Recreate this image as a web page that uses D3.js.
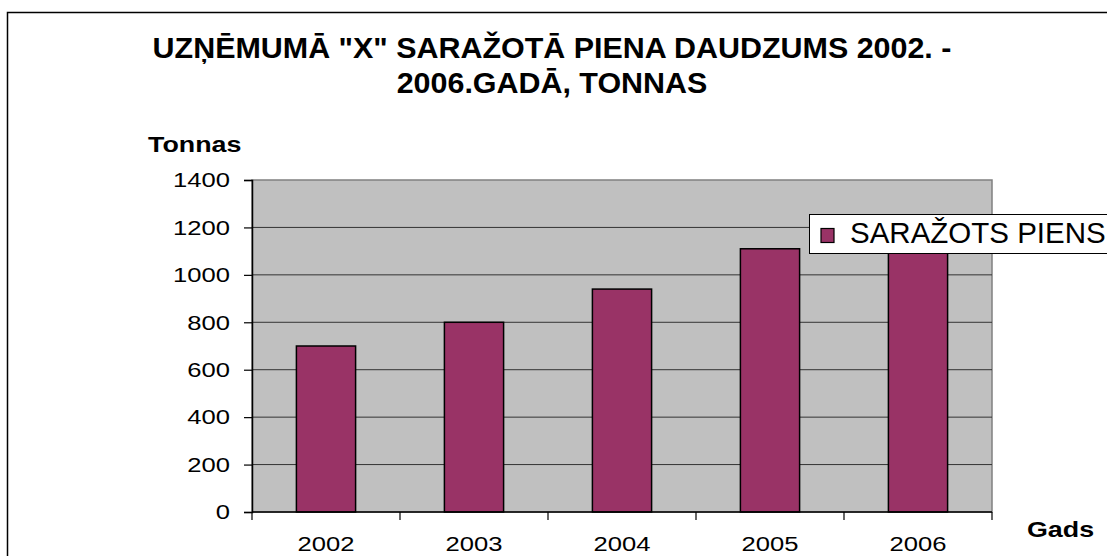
<!DOCTYPE html>
<html>
<head>
<meta charset="utf-8">
<script src="https://cdn.jsdelivr.net/npm/d3@7.9.0/dist/d3.min.js"></script>
<style>
  html, body { margin: 0; padding: 0; background: #fff; }
  svg { display: block; font-family: "Liberation Sans", Arial, sans-serif; }
</style>
</head>
<body>
<div id="chart"></div>
<script>
// data
const years = ['2002', '2003', '2004', '2005', '2006'];
const milk = [700, 800, 940, 1110, 1200];
const yTicks = [0, 200, 400, 600, 800, 1000, 1200, 1400];
const titleLines = ['UZŅĒMUMĀ "X" SARAŽOTĀ PIENA DAUDZUMS 2002. -', '2006.GADĀ, TONNAS'];
const seriesName = 'SARAŽOTS PIENS';

const width = 1107;
const height = 556;
const plot = { left: 252, right: 992, top: 180, bottom: 512 };
const stretch = 1.22; // axis text is drawn wider than it is tall

const svg = d3.select('#chart').append('svg')
  .attr('width', width)
  .attr('height', height);

// outer chart frame, runs off the right and bottom edge
svg.append('rect')
  .attr('x', 7.5).attr('y', 12.5)
  .attr('width', 1200).attr('height', 600)
  .attr('fill', 'none')
  .attr('stroke', '#000')
  .attr('stroke-width', 1.5);

const x = d3.scaleBand()
  .domain(years)
  .range([plot.left, plot.right])
  .paddingInner(0.6)
  .paddingOuter(0.3);

const y = d3.scaleLinear()
  .domain([0, 1400])
  .range([plot.bottom, plot.top]);

// plot area
svg.append('rect')
  .attr('x', plot.left).attr('y', plot.top)
  .attr('width', plot.right - plot.left)
  .attr('height', plot.bottom - plot.top)
  .attr('fill', '#c0c0c0')
  .attr('stroke', '#808080')
  .attr('stroke-width', 1.5);

// gridlines
svg.append('g')
  .selectAll('line')
  .data(yTicks.filter(d => d > 0 && d < 1400))
  .join('line')
  .attr('x1', plot.left).attr('x2', plot.right)
  .attr('y1', d => y(d)).attr('y2', d => y(d))
  .attr('stroke', '#333')
  .attr('stroke-width', 1);

// bars
svg.append('g')
  .selectAll('rect')
  .data(milk)
  .join('rect')
  .attr('x', (d, i) => x(years[i]))
  .attr('y', d => y(d))
  .attr('width', x.bandwidth())
  .attr('height', d => y(0) - y(d))
  .attr('fill', '#993366')
  .attr('stroke', '#000')
  .attr('stroke-width', 1.5);

// y axis
const yAxis = svg.append('g')
  .attr('transform', `translate(${plot.left},0)`)
  .call(d3.axisLeft(y).tickValues(yTicks).tickFormat(d3.format('d')).tickSize(8).tickPadding(14));
yAxis.select('.domain').attr('stroke', '#000').attr('stroke-width', 1.5);
yAxis.selectAll('.tick line').attr('stroke', '#000').attr('stroke-width', 1.2);
yAxis.selectAll('.tick text')
  .attr('font-family', '"Liberation Sans", Arial, sans-serif')
  .attr('font-size', 21)
  .attr('fill', '#000')
  .attr('x', -22 / stretch)
  .attr('transform', `scale(${stretch},1)`);

// x axis: ticks sit between categories
const bounds = years.map(d => x(d) + x.bandwidth() / 2 - x.step() / 2);
bounds.push(x(years[years.length - 1]) + x.bandwidth() / 2 + x.step() / 2);

const xAxis = svg.append('g');
xAxis.append('line')
  .attr('x1', plot.left).attr('x2', plot.right)
  .attr('y1', plot.bottom).attr('y2', plot.bottom)
  .attr('stroke', '#000')
  .attr('stroke-width', 1.5);
xAxis.selectAll('line.tick')
  .data(bounds)
  .join('line')
  .attr('class', 'tick')
  .attr('x1', d => d).attr('x2', d => d)
  .attr('y1', plot.bottom).attr('y2', plot.bottom + 8)
  .attr('stroke', '#000')
  .attr('stroke-width', 1.2);
xAxis.selectAll('text')
  .data(years)
  .join('text')
  .attr('transform', d => `translate(${x(d) + x.bandwidth() / 2},551) scale(${stretch},1)`)
  .attr('text-anchor', 'middle')
  .attr('font-size', 21)
  .text(d => d);

// axis titles
svg.append('text')
  .attr('transform', `translate(148,152) scale(${stretch},1)`)
  .attr('font-size', 22)
  .attr('font-weight', 'bold')
  .text('Tonnas');

svg.append('text')
  .attr('transform', `translate(1027,537) scale(${stretch},1)`)
  .attr('font-size', 22)
  .attr('font-weight', 'bold')
  .text('Gads');

// chart title
svg.append('g')
  .selectAll('text')
  .data(titleLines)
  .join('text')
  .attr('transform', (d, i) => `translate(552,${58 + i * 35}) scale(1.05,1)`)
  .attr('text-anchor', 'middle')
  .attr('font-size', 29)
  .attr('font-weight', 'bold')
  .text(d => d);

// legend
const legend = svg.append('g');
legend.append('rect')
  .attr('x', 809.5).attr('y', 214.5)
  .attr('width', 330).attr('height', 39)
  .attr('fill', '#fff')
  .attr('stroke', '#000')
  .attr('stroke-width', 1);
legend.append('rect')
  .attr('x', 821).attr('y', 228.5)
  .attr('width', 13).attr('height', 14)
  .attr('fill', '#993366')
  .attr('stroke', '#000')
  .attr('stroke-width', 1.2);
legend.append('text')
  .attr('x', 850).attr('y', 243)
  .attr('font-size', 29.5)
  .text(seriesName);
</script>
</body>
</html>
